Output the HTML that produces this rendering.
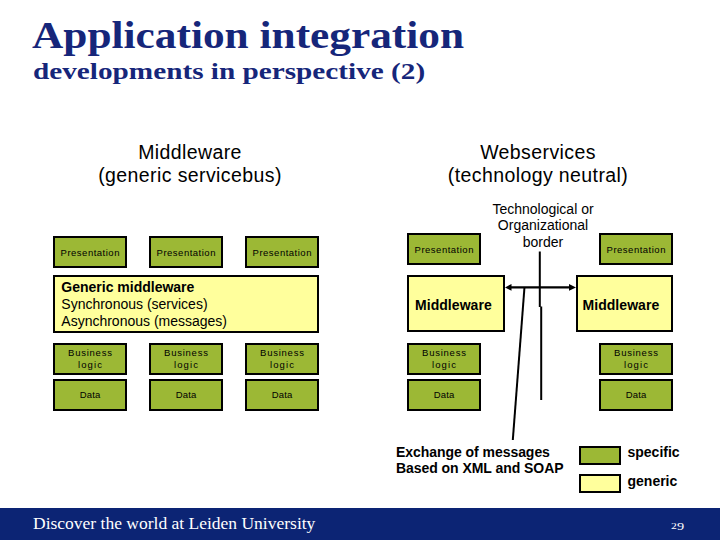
<!DOCTYPE html>
<html><head><meta charset="utf-8">
<style>
*{margin:0;padding:0;box-sizing:border-box}
html,body{width:720px;height:540px;overflow:hidden;background:#fff}
body{position:relative;font-family:"Liberation Sans",sans-serif;color:#000}
.a{position:absolute;white-space:nowrap}
.t1{font-family:"Liberation Serif",serif;font-weight:bold;color:#16267a;font-size:37px;line-height:36px;transform-origin:0 0;transform:scaleX(1.171)}
.t2{font-family:"Liberation Serif",serif;font-weight:bold;color:#16267a;font-size:24px;line-height:24px;transform-origin:0 0;transform:scaleX(1.218)}
.h{font-size:19.5px;line-height:23.7px;text-align:center;letter-spacing:0.4px}
.g{position:absolute;background:#9cb835;border:2px solid #000;display:flex;align-items:center;justify-content:center;text-align:center;font-size:9.5px;line-height:11.7px;color:#000;padding-top:0px}
.p{padding-top:1.5px;letter-spacing:0.5px;text-indent:0.5px}
.b1{letter-spacing:0.75px;margin-right:-0.75px}
.b2{letter-spacing:1.1px;margin-right:-1.1px}
.d{letter-spacing:0.15px;text-indent:0.15px}
.y{position:absolute;background:#ffff9c;border:2px solid #000}
.mw{font-weight:bold;font-size:14px;line-height:16px;letter-spacing:0.05px}
.foot{position:absolute;left:0;top:508px;width:720px;height:32px;background:#0c2474}
</style></head><body>

<div class="a t1" style="left:32px;top:18px">Application integration</div>
<div class="a t2" style="left:32.5px;top:59px">developments in perspective (2)</div>

<div class="a h" style="left:90px;top:140.5px;width:200px">Middleware<br>(generic servicebus)</div>
<div class="a h" style="left:438px;top:140.5px;width:200px">Webservices<br>(technology neutral)</div>

<!-- left group -->
<div class="g p" style="left:53px;top:236px;width:74px;height:32px">Presentation</div>
<div class="g p" style="left:149px;top:236px;width:74px;height:32px">Presentation</div>
<div class="g p" style="left:245px;top:236px;width:74px;height:32px">Presentation</div>
<div class="y" style="left:53px;top:275px;width:266px;height:58px"></div>
<div class="a" style="left:61.3px;top:279px;font-size:14px;line-height:17px"><b>Generic middleware</b><br>Synchronous (services)<br>Asynchronous (messages)</div>
<div class="g" style="left:53px;top:343px;width:74px;height:32px"><div><span class="b1">Business</span><br><span class="b2">logic</span></div></div>
<div class="g" style="left:149px;top:343px;width:74px;height:32px"><div><span class="b1">Business</span><br><span class="b2">logic</span></div></div>
<div class="g" style="left:245px;top:343px;width:74px;height:32px"><div><span class="b1">Business</span><br><span class="b2">logic</span></div></div>
<div class="g d" style="left:53px;top:379px;width:74px;height:32px">Data</div>
<div class="g d" style="left:149px;top:379px;width:74px;height:32px">Data</div>
<div class="g d" style="left:245px;top:379px;width:74px;height:32px">Data</div>

<!-- right group -->
<div class="a" style="left:479px;top:200.5px;width:128px;text-align:center;font-size:14px;line-height:16.6px">Technological or<br>Organizational<br>border</div>
<div class="g p" style="left:407px;top:233px;width:74px;height:32px">Presentation</div>
<div class="g p" style="left:599px;top:233px;width:74px;height:32px">Presentation</div>
<div class="y" style="left:407px;top:275px;width:98px;height:57px"></div>
<div class="a mw" style="left:415px;top:296.5px">Middleware</div>
<div class="y" style="left:576px;top:275px;width:97px;height:57px"></div>
<div class="a mw" style="left:582.5px;top:296.5px">Middleware</div>
<div class="g" style="left:407px;top:343px;width:74px;height:32px"><div><span class="b1">Business</span><br><span class="b2">logic</span></div></div>
<div class="g" style="left:599px;top:343px;width:74px;height:32px"><div><span class="b1">Business</span><br><span class="b2">logic</span></div></div>
<div class="g d" style="left:407px;top:379px;width:74px;height:32px">Data</div>
<div class="g d" style="left:599px;top:379px;width:74px;height:32px">Data</div>

<svg class="a" style="left:0;top:0" width="720" height="540" viewBox="0 0 720 540">
 <line x1="539.8" y1="251.5" x2="539.8" y2="307" stroke="#000" stroke-width="2"/>
 <line x1="541.2" y1="306.5" x2="541.2" y2="400" stroke="#000" stroke-width="2"/>
 <line x1="510" y1="287.4" x2="571" y2="287.4" stroke="#000" stroke-width="2.4"/>
 <polygon points="505,287.4 511.5,284 511.5,290.8" fill="#000"/>
 <polygon points="576,287.4 569,284 569,290.8" fill="#000"/>
 <line x1="524.5" y1="287" x2="512.8" y2="440" stroke="#000" stroke-width="2"/>
</svg>

<div class="a" style="left:396px;top:444px;font-size:14px;line-height:16px;font-weight:bold;letter-spacing:-0.05px">Exchange of messages<br>Based on XML and SOAP</div>
<div class="y" style="left:579px;top:446px;width:42px;height:19px;background:#9cb835"></div>
<div class="y" style="left:579px;top:474px;width:42px;height:19px"></div>
<div class="a" style="left:627.5px;top:444px;font-size:14px;line-height:16px;font-weight:bold;letter-spacing:0px">specific</div>
<div class="a" style="left:627.5px;top:473px;font-size:14px;line-height:16px;font-weight:bold;letter-spacing:0px">generic</div>

<div class="foot"></div>
<div class="a" style="left:33px;top:513px;font-family:'Liberation Serif',serif;font-size:17.5px;line-height:20px;color:#fff">Discover the world at Leiden University</div>
<div class="a" style="left:670.5px;top:521px;font-family:'Liberation Serif',serif;font-size:9px;line-height:10px;color:#fff;transform:scaleX(1.3);transform-origin:0 0">2</div>
<div class="a" style="left:677px;top:520px;font-family:'Liberation Serif',serif;font-size:11px;line-height:12px;color:#fff;transform:scaleX(1.3);transform-origin:0 0">9</div>
</body></html>
